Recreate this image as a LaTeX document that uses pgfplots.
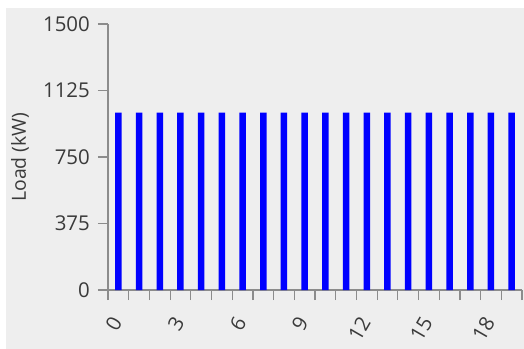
\documentclass[border=0pt]{standalone}
\usepackage{pgfplots}
\pgfplotsset{compat=1.18}
\usepackage{fontspec}
\setmainfont{Open Sans}
\definecolor{bg}{HTML}{EEEEEE}
\definecolor{axisgray}{HTML}{8C8C8C}
\definecolor{txt}{HTML}{3A3A3A}
\begin{document}
\begin{tikzpicture}
\fill[white] (0,0) rectangle (524bp,349bp);
\fill[bg] (6bp,0) rectangle (524bp,341bp);
\begin{axis}[
  at={(108bp,59bp)}, anchor=south west,
  scale only axis, width=414bp, height=266bp,
  xmin=-0.5, xmax=19.5, ymin=0, ymax=1500,
  axis lines*=left,
  axis line style={axisgray, line width=1.2bp},
  ytick={0,375,750,1125,1500},
  xtick={0,3,...,18},
  minor xtick={-0.5,0.5,...,19.5},
  major x tick style={draw=none},
  tick align=outside,
  major tick length=10bp, minor tick length=10bp,
  tick style={axisgray, line width=1.2bp},
  ytick style={axisgray, line width=1.2bp},
  minor x tick style={axisgray, line width=1.2bp},
  /pgf/number format/assume math mode=true,
  /pgf/number format/1000 sep={},
  ticklabel style={font=\fontsize{20.5}{23}\selectfont, text=txt},
  yticklabel style={inner sep=0pt, xshift=-8bp},
  xticklabel style={rotate=60, anchor=east, inner sep=0pt, xshift=-17bp, yshift=-8bp},
  ylabel={Load (kW)},
  every axis y label/.style={at={(rel axis cs:0,0.5)}, xshift=-88bp, rotate=90, anchor=center, font=\fontsize{19.5}{22}\selectfont, text=txt},
  clip=false,
]
\addplot[ybar, bar width=6.5bp, fill=blue, draw=none] coordinates {
(0,1000) (1,1000) (2,1000) (3,1000) (4,1000) (5,1000) (6,1000) (7,1000) (8,1000) (9,1000)
(10,1000) (11,1000) (12,1000) (13,1000) (14,1000) (15,1000) (16,1000) (17,1000) (18,1000) (19,1000)
};
\end{axis}
\pgfresetboundingbox
\useasboundingbox (0,0) rectangle (524bp,349bp);
\end{tikzpicture}
\end{document}
